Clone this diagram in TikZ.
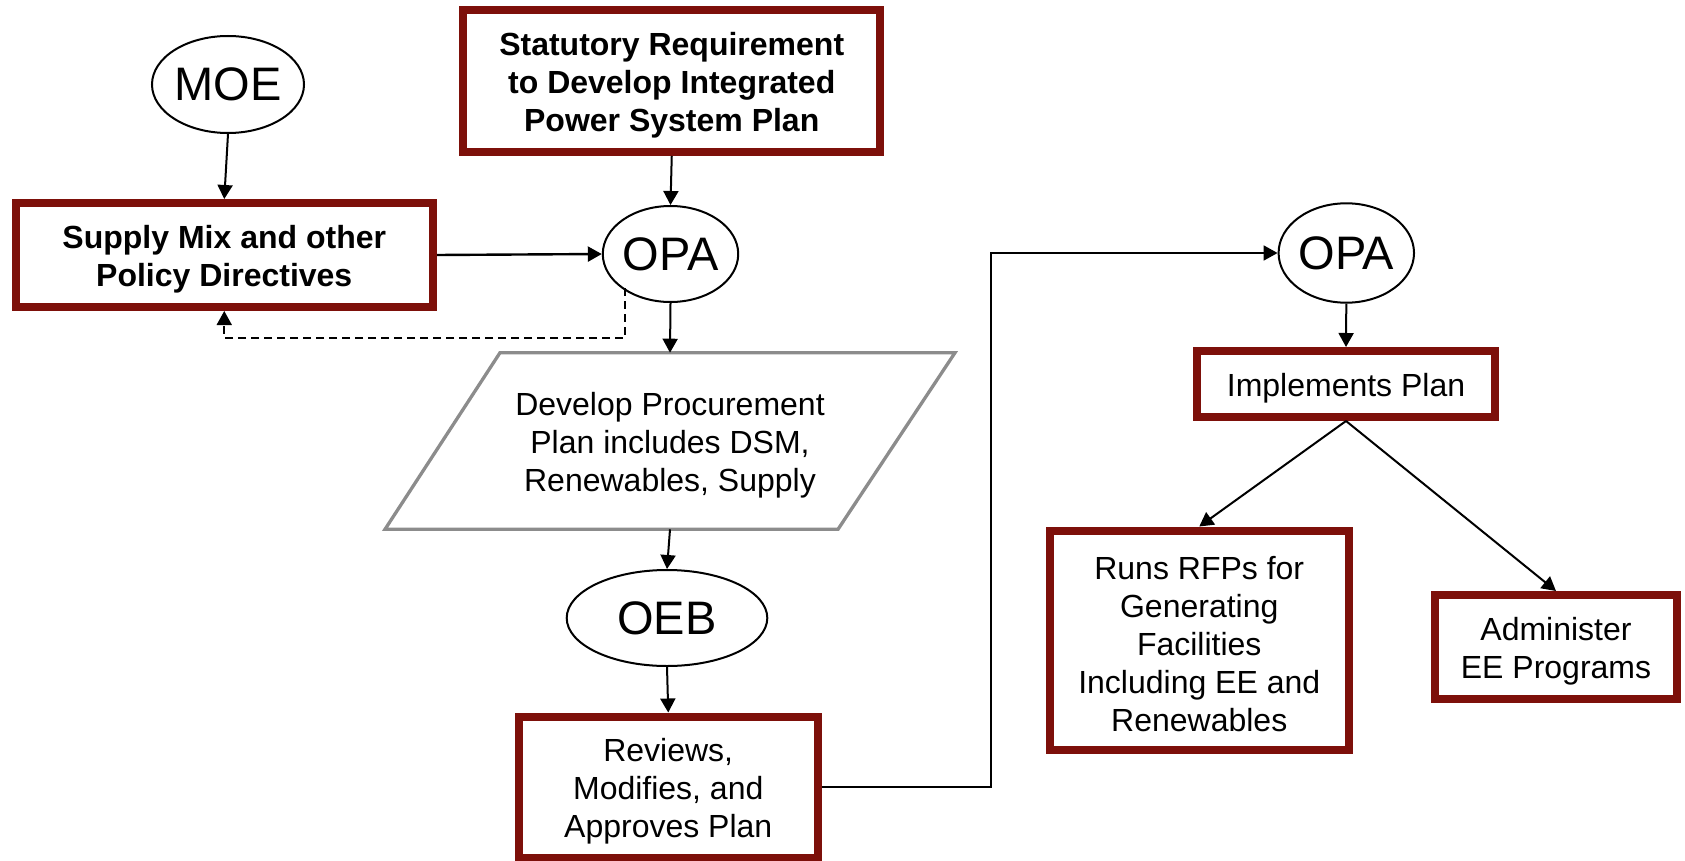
\documentclass[tikz,border=0pt]{standalone}
\usepackage{fontspec}
\setmainfont{Liberation Sans}
\usetikzlibrary{arrows.meta,calc,shapes.geometric}
\definecolor{boxred}{RGB}{125,16,10}
\definecolor{paragray}{RGB}{140,140,140}
\newcommand{\tallstrut}{\rule{0pt}{31pt}}
\begin{document}
\begin{tikzpicture}[x=1pt,y=-1pt,
  redbox/.style={draw=boxred, line width=8pt, align=center, inner sep=0pt, font=\fontsize{32}{38}\selectfont},
  boldbox/.style={redbox, font=\fontsize{32}{38}\selectfont\bfseries},
  oval/.style={draw, ellipse, line width=2pt, inner sep=0pt, font=\fontsize{47}{56}\selectfont},
  arr/.style={-{Triangle[length=14pt,width=15pt]}, line width=2pt},
  dashconn/.style={arr, line width=1.8pt, dash pattern=on 8pt off 5pt},
  plaintext/.style={inner sep=0pt, outer sep=0pt, align=center, font=\fontsize{32}{38}\selectfont},
  paraline/.style={draw=paragray, line width=3.3pt, line join=miter}
]
\fill[white, use as bounding box] (0,0) rectangle (1685,861);

\node[oval, minimum width=152pt, minimum height=97pt] (moe) at (228,84.5) {MOE};
\node[boldbox, minimum width=417pt, minimum height=142pt] (stat) at (671.75,81) {\tallstrut Statutory Requirement\\to Develop Integrated\\Power System Plan};
\node[boldbox, minimum width=417.5pt, minimum height=104pt] (supply) at (224.25,255) {\tallstrut Supply Mix and other\\Policy Directives};
\node[oval, minimum width=129pt, minimum height=96pt] (opa1) at (670.5,254) {OPA};
\node[plaintext, minimum width=570pt, minimum height=176.6pt] (plan) at (670,441) {\tallstrut Develop Procurement\\Plan includes DSM,\\Renewables, Supply};
\draw[paraline] ($(plan.north west)+(115,0)$) -- (plan.north east) -- ($(plan.south east)+(-117,0)$) -- (plan.south west) -- cycle;
\node[oval, minimum width=200.6pt, minimum height=96pt] (oeb) at (667,618) {OEB};
\node[redbox, minimum width=298.5pt, minimum height=141.5pt] (rev) at (668.25,787.25) {\tallstrut Reviews,\\Modifies, and\\Approves Plan};
\node[oval, minimum width=117.4pt, minimum height=99.4pt] (opa2) at (1346.3,253) {OPA};
\node[redbox, minimum width=298pt, minimum height=66pt] (impl) at (1346,384) {\tallstrut Implements Plan};
\node[redbox, minimum width=298.5pt, minimum height=219pt] (runs) at (1199.25,640) {\tallstrut Runs RFPs for\\Generating\\Facilities\\Including EE and\\Renewables};
\node[redbox, minimum width=242pt, minimum height=104pt] (admin) at (1556,647) {\tallstrut Administer\\EE Programs};

\coordinate (bend) at (990.7,253);
\coordinate (dstart) at ($(opa1.center)+(-45.5,34)$);
\coordinate (dcorner) at ($(supply.south)+(0,27)$);

\draw[arr] (moe.south) -- (supply.north);
\draw[arr] (stat.south) -- (opa1.north);
\draw[arr, line width=2.4pt] (supply.east) -- (opa1.west);
\draw[dashconn] (dstart) |- (dcorner) -- (supply.south);
\draw[arr] (opa1.south) -- (plan.north);
\draw[arr] (plan.south) -- (oeb.north);
\draw[arr] (oeb.south) -- (rev.north);
\draw[arr, line width=1.8pt] (rev.east) -| (bend) -- (opa2.west);
\draw[arr] (opa2.south) -- (impl.north);
\draw[arr] (impl.south) -- (runs.north);
\draw[arr] (impl.south) -- (admin.north);
\end{tikzpicture}
\end{document}
